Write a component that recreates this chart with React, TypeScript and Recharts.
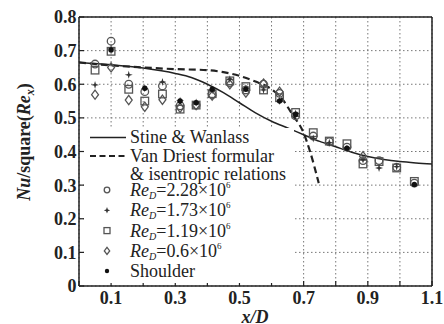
import { CartesianGrid, ComposedChart, Line, Scatter, XAxis, YAxis } from "recharts";

const FONT = "Liberation Serif, Tinos, DejaVu Serif, serif";
const INK = "#222";
const MARK = "#555";

// axis ticks
const xTicks = [0, 0.1, 0.2, 0.3, 0.4, 0.5, 0.6, 0.7, 0.8, 0.9, 1.0, 1.1];
const xLabelTicks = [0.1, 0.3, 0.5, 0.7, 0.9, 1.1];
const yTicks = [0, 0.1, 0.2, 0.3, 0.4, 0.5, 0.6, 0.7, 0.8];

// measurement stations x/D
const stationX = [0.05, 0.1, 0.155, 0.205, 0.26, 0.315, 0.365, 0.415, 0.47, 0.52, 0.575, 0.625, 0.675, 0.73, 0.78, 0.835, 0.885, 0.935, 0.99, 1.045];

// Nu/sqrt(Re_x) per Reynolds number (null = no point)
const re228 = [0.66, 0.728, 0.6, 0.578, 0.595, 0.536, 0.538, 0.569, 0.605, 0.583, 0.6, 0.573, 0.506, 0.446, 0.429, 0.413, 0.373, 0.373, 0.353, 0.306];
const re173 = [0.598, 0.705, 0.628, 0.588, 0.607, 0.551, 0.546, 0.582, 0.615, 0.588, 0.583, 0.55, 0.513, 0.439, 0.426, 0.409, 0.376, 0.351, 0.355, null];
const re119 = [0.642, 0.698, 0.585, 0.55, 0.571, 0.526, 0.538, 0.572, 0.61, 0.593, 0.583, 0.56, 0.516, 0.456, 0.431, 0.423, 0.363, 0.37, 0.351, 0.311];
const re060 = [0.569, 0.65, 0.553, 0.533, 0.554, 0.53, 0.538, 0.566, 0.6, 0.575, 0.602, 0.578, null, null, null, null, 0.386, null, null, null];
const shoulder = [null, 0.702, null, 0.588, null, 0.55, 0.545, 0.585, null, 0.585, null, 0.55, 0.51, null, null, 0.41, null, null, null, 0.302];

// theory curves
const stineX = [0, 0.1, 0.2, 0.3, 0.35, 0.4, 0.45, 0.5, 0.55, 0.6, 0.65, 0.7, 0.75, 0.8, 0.85, 0.9, 0.95, 1.0, 1.05, 1.1];
const stineY = [0.665, 0.658, 0.648, 0.632, 0.62, 0.6, 0.575, 0.545, 0.515, 0.49, 0.47, 0.45, 0.43, 0.414, 0.398, 0.385, 0.376, 0.37, 0.366, 0.363];
const driestX = [0, 0.1, 0.2, 0.3, 0.4, 0.45, 0.5, 0.55, 0.6, 0.63, 0.665, 0.7, 0.72, 0.747];
const driestY = [0.665, 0.656, 0.65, 0.645, 0.642, 0.636, 0.625, 0.608, 0.585, 0.56, 0.51, 0.455, 0.4, 0.306];

const toPoints = (xs: number[], ys: (number | null)[]) =>
  xs.map((x, i) => ({ x, y: ys[i] })).filter((p) => p.y !== null);

function CircleMark({ cx, cy, r = 3.8 }: any) {
  return <circle cx={cx} cy={cy} r={r} fill="none" stroke={MARK} strokeWidth={1.3} />;
}
function PlusMark({ cx, cy, s = 4 }: any) {
  const d = `M${cx - s},${cy} L${cx - 0.9},${cy - 0.9} L${cx},${cy - s} L${cx + 0.9},${cy - 0.9} L${cx + s},${cy} L${cx + 0.9},${cy + 0.9} L${cx},${cy + s} L${cx - 0.9},${cy + 0.9} Z`;
  return <path d={d} fill="#333" />;
}
function SquareMark({ cx, cy, s = 3.8 }: any) {
  return <rect x={cx - s} y={cy - s} width={2 * s} height={2 * s} fill="none" stroke={MARK} strokeWidth={1.3} />;
}
function DiamondMark({ cx, cy, s = 4.6 }: any) {
  const p = `${cx},${cy - s} ${cx + s * 0.75},${cy} ${cx},${cy + s} ${cx - s * 0.75},${cy}`;
  return <polygon points={p} fill="none" stroke={MARK} strokeWidth={1.3} />;
}
function DotMark({ cx, cy, r = 2.7 }: any) {
  return <circle cx={cx} cy={cy} r={r} fill="#111" />;
}

const reSeries = [
  { value: "2.28", mark: CircleMark, small: { r: 2.8 } },
  { value: "1.73", mark: PlusMark, small: { s: 3.2 } },
  { value: "1.19", mark: SquareMark, small: { s: 3 } },
  { value: "0.6", mark: DiamondMark, small: { s: 3.6 } },
];

function LegendBox() {
  const tx = 46;
  const text = { fontSize: 18, fill: INK, fontFamily: FONT };
  return (
    <svg width={210} height={155} style={{ display: "block", background: "#fff" }}>
      <line x1={6} x2={42} y1={9.5} y2={9.5} stroke={INK} strokeWidth={1.5} />
      <text x={tx} y={15} {...text}>Stine &amp; Wanlass</text>
      <line x1={6} x2={42} y1={28} y2={28} stroke={INK} strokeWidth={2} strokeDasharray="6 3.5" />
      <text x={tx} y={34} {...text}>Van Driest formular</text>
      <text x={tx} y={52} {...text}>&amp; isentropic relations</text>
      {reSeries.map((s, i) => {
        const cy = 62 + i * 20.3;
        const M = s.mark;
        return (
          <g key={s.value}>
            <M cx={23} cy={cy} {...s.small} />
            <text x={tx} y={cy + 6} {...text}>
              <tspan fontStyle="italic">Re</tspan>
              <tspan fontStyle="italic" fontSize={10} dy={3}>D</tspan>
              <tspan dy={-3}>={s.value}×10</tspan>
              <tspan fontSize={9} dy={-8}>6</tspan>
            </text>
          </g>
        );
      })}
      <DotMark cx={23} cy={143} r={2.2} />
      <text x={tx} y={149} {...text}>Shoulder</text>
    </svg>
  );
}

function YTitle() {
  return (
    <text transform="rotate(-90)" x={-142} y={30} textAnchor="middle" fontSize={18} fontWeight="bold" fill={INK} fontFamily={FONT}>
      <tspan fontStyle="italic">Nu</tspan>
      <tspan>/square(</tspan>
      <tspan fontStyle="italic">Re</tspan>
      <tspan fontStyle="italic" fontSize={12} dy={4}>x</tspan>
      <tspan dy={-4}>)</tspan>
    </text>
  );
}

function XTitle() {
  return (
    <text x={255} y={323} textAnchor="middle" fontSize={18} fontWeight="bold" fontStyle="italic" fill={INK} fontFamily={FONT}>
      x/D
    </text>
  );
}

export default function App() {
  const tickStyle = { fontSize: 18, fontWeight: "bold", fill: INK, fontFamily: FONT };
  return (
    <div style={{ position: "absolute", left: 0, top: 0, width: 444, height: 324, background: "#fff" }}>
      <ComposedChart width={444} height={324} margin={{ top: 16, right: 11, bottom: 0, left: 0 }}>
        <CartesianGrid stroke="#777" strokeDasharray="1.5 2.5" />
        <XAxis
          type="number"
          dataKey="x"
          domain={[0, 1.1]}
          ticks={xTicks}
          interval={0}
          tickFormatter={(v: number) => (xLabelTicks.includes(v) ? v.toFixed(1) : "")}
          tick={tickStyle}
          tickSize={-5}
          tickMargin={10}
          height={38}
          axisLine={{ stroke: INK, strokeWidth: 1.5 }}
          tickLine={{ stroke: INK, strokeWidth: 1.2 }}
          allowDataOverflow
          label={<XTitle />}
        />
        <XAxis xAxisId="top" orientation="top" type="number" domain={[0, 1.1]} height={1} tick={false} tickLine={false} axisLine={{ stroke: INK, strokeWidth: 1.5 }} />
        <YAxis
          type="number"
          dataKey="y"
          domain={[0, 0.8]}
          ticks={yTicks}
          interval={0}
          tickFormatter={(v: number) => (v === 0 ? "0" : v.toFixed(1))}
          tick={tickStyle}
          tickSize={-5}
          tickMargin={7.5}
          width={79}
          axisLine={{ stroke: INK, strokeWidth: 1.5 }}
          tickLine={{ stroke: INK, strokeWidth: 1.2 }}
          allowDataOverflow
          label={<YTitle />}
        />
        <YAxis yAxisId="right" orientation="right" type="number" domain={[0, 0.8]} ticks={yTicks} interval={0} width={1} tickFormatter={() => ""} tickSize={-4} axisLine={{ stroke: INK, strokeWidth: 1.5 }} tickLine={{ stroke: INK }} />
        <Line data={toPoints(stineX, stineY)} dataKey="y" type="monotone" stroke={INK} strokeWidth={1.5} dot={false} isAnimationActive={false} />
        <Line data={toPoints(driestX, driestY)} dataKey="y" type="monotone" stroke={INK} strokeWidth={2.2} strokeDasharray="7 4" dot={false} isAnimationActive={false} />
        <Scatter data={toPoints(stationX, re060)} dataKey="y" shape={<DiamondMark />} isAnimationActive={false} />
        <Scatter data={toPoints(stationX, re228)} dataKey="y" shape={<CircleMark />} isAnimationActive={false} />
        <Scatter data={toPoints(stationX, re119)} dataKey="y" shape={<SquareMark />} isAnimationActive={false} />
        <Scatter data={toPoints(stationX, re173)} dataKey="y" shape={<PlusMark />} isAnimationActive={false} />
        <Scatter data={toPoints(stationX, shoulder)} dataKey="y" shape={<DotMark />} isAnimationActive={false} />
      </ComposedChart>
      <div style={{ position: "absolute", left: 84, top: 128 }}>
        <LegendBox />
      </div>
    </div>
  );
}
